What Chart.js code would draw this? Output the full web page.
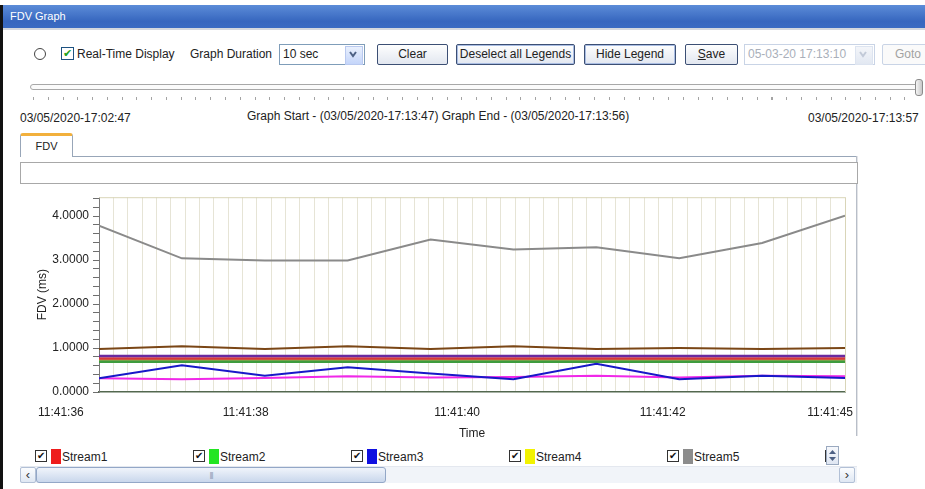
<!DOCTYPE html>
<html>
<head>
<meta charset="utf-8">
<title>FDV Graph</title>
<script src="https://cdn.jsdelivr.net/npm/chart.js@4.4.1/dist/chart.umd.min.js"></script>
<style>
body { margin: 0; width: 925px; height: 489px; overflow: hidden; background: #fff;
       font-family: "Liberation Sans", Arial, sans-serif; font-size: 12px; color: #222; position: relative; }
.a { position: absolute; box-sizing: border-box; }
#edge { left: 0; top: 5px; width: 3px; height: 484px; background: #111; }
#titlebar { left: 3px; top: 5px; width: 922px; height: 23px; background: linear-gradient(#5c8cd8, #3767bf 70%, #3a6bc2);
            color: #fff; font-size: 11px; line-height: 23px; padding-left: 7px; }
#titleline { left: 3px; top: 28px; width: 922px; height: 2px; background: #d4d8de; }
.lbl { line-height: 14px; white-space: nowrap; }
.radio { width: 12px; height: 12px; border: 1px solid #444; border-radius: 50%; background: #fff; }
.chk { width: 13px; height: 13px; border: 1px solid #1d5281; background: #fff; font-size: 11px; line-height: 11px; text-align: center; color: #21a121; }
.btn { height: 21px; border: 1px solid #3c4f74; border-radius: 2px; background: linear-gradient(#fefefe, #e2e7f0);
       text-align: center; line-height: 19px; white-space: nowrap; }
.btn.focus { box-shadow: inset 0 0 0 1px #a9bde3; }
.combo { height: 21px; border: 1px solid #7f9db9; background: #fff; line-height: 19px; padding-left: 3px; white-space: nowrap; }
.combo .arr { position: absolute; right: 1px; top: 1px; width: 16px; height: 17px; border: 1px solid #b9c9ef;
              background: linear-gradient(#e9f0fd, #c4d5fa); }
.combo.dis { border-color: #c9d4e6; color: #a9afba; }
.combo.dis .arr { border-color: #dde4f0; background: linear-gradient(#f3f5f9, #e2e8f2); }
.btn.dis { border-color: #c9d4e6; color: #a2a2a2; background: #fafafa; }
#track { left: 30px; top: 84px; width: 890px; height: 6px; border: 1px solid #a8a8a8; border-radius: 3px; background: #fbfbfb; }
#ticks { left: 33px; top: 97px; width: 886px; height: 3px;
         background: repeating-linear-gradient(to right, #a4a4a4 0 1px, transparent 1px 14.77px); }
#thumb { left: 915px; top: 79px; width: 8px; height: 17px; border: 1px solid #8b8b8b; border-radius: 3px;
         background: linear-gradient(to right, #f5f5f5, #c8c8c8); }
#tab { left: 20px; top: 133px; width: 53px; height: 24px; border: 1px solid #98a6b8; border-bottom: none;
       border-top: 3px solid #f2b03c; border-radius: 3px 3px 0 0; background: #fff; text-align: center; line-height: 20px; font-size: 11px; }
#tabline { left: 73px; top: 156px; width: 783px; height: 1px; background: #98a6b8; }
#panelR { left: 856px; top: 156px; width: 2px; height: 280px; border-left: 1px solid #b8bec8; border-right: 1px solid #e2e4e8; }
#textbox { left: 20px; top: 162px; width: 838px; height: 22px; border: 1px solid #a8a8a8; background: #fff; }
#chartBox { left: 20px; top: 186px; width: 838px; height: 259px; }
#legend { left: 20px; top: 448px; width: 806px; height: 17px; overflow: hidden; }
.item { position: absolute; top: 1px; height: 15px; white-space: nowrap; }
.item .cb { position: absolute; left: 0; top: 1px; width: 12px; height: 12px; border: 1px solid #333; background: #fff;
            font-size: 10px; line-height: 10px; text-align: center; color: #111; box-sizing: border-box; }
.item .sw { position: absolute; left: 16px; top: 0; width: 10px; height: 15px; }
.item .nm { position: absolute; left: 27px; top: 1px; line-height: 14px; }
#spin { left: 826px; top: 446px; width: 13px; height: 19px; border: 1px solid #9aa9bf; background: linear-gradient(#f6f8fc, #dfe6f2); }
#scroll { left: 20px; top: 466px; width: 837px; height: 17px; background: #f1f4f9; border-top: 1px solid #e4e8ef; }
.sbtn { top: 0; width: 16px; height: 16px; border: 1px solid #b2c0d6; border-radius: 2px; background: linear-gradient(#fbfcfe, #dfe7f3);
        text-align: center; line-height: 13px; font-size: 13px; color: #333; }
#sthumb { left: 16px; top: 0; width: 350px; height: 16px; border: 1px solid #93a7c7; border-radius: 3px;
          background: linear-gradient(#f0f4fb, #c9d7ec); text-align: center; color: #8a9ab3; font-size: 8px; line-height: 14px; letter-spacing: -1px; }
</style>
</head>
<body>
<div id="edge" class="a"></div>
<div id="titlebar" class="a">FDV Graph</div>
<div id="titleline" class="a"></div>

<div class="a radio" style="left:34px; top:48px;"></div>
<div class="a chk" style="left:61px; top:47px;">&#10004;</div>
<div class="a lbl" style="left:77px; top:47px;">Real-Time Display</div>
<div class="a lbl" style="left:190px; top:47px;">Graph Duration</div>
<div class="a combo" style="left:279px; top:44px; width:86px;">10 sec
  <div class="arr"><svg width="14" height="15"><polyline points="4,5 7,9 10,5" fill="none" stroke="#4d6185" stroke-width="2"/></svg></div>
</div>
<div class="a btn" style="left:377px; top:44px; width:71px;">Clear</div>
<div class="a btn focus" style="left:456px; top:44px; width:119px;">Deselect all Legends</div>
<div class="a btn focus" style="left:584px; top:44px; width:92px;">Hide Legend</div>
<div class="a btn" style="left:685px; top:44px; width:53px;"><u>S</u>ave</div>
<div class="a combo dis" style="left:744px; top:44px; width:131px;">05-03-20 17:13:10
  <div class="arr"><svg width="14" height="15"><polyline points="4,5 7,9 10,5" fill="none" stroke="#c2cad8" stroke-width="2"/></svg></div>
</div>
<div class="a btn dis" style="left:882px; top:44px; width:52px;">Goto</div>

<div id="track" class="a"></div>
<div id="ticks" class="a"></div>
<div id="thumb" class="a"></div>

<div class="a lbl" style="left:20px; top:111px;">03/05/2020-17:02:47</div>
<div class="a lbl" style="left:247px; top:109px;">Graph Start - (03/05/2020-17:13:47) Graph End - (03/05/2020-17:13:56)</div>
<div class="a lbl" style="left:808px; top:111px;">03/05/2020-17:13:57</div>

<div id="tab" class="a">FDV</div>
<div id="tabline" class="a"></div>
<div id="panelR" class="a"></div>
<div id="textbox" class="a"></div>

<div id="chartBox" class="a"><canvas id="fdvChart" width="838" height="259"></canvas></div>

<div id="legend" class="a"></div>
<div id="spin" class="a">
  <svg width="11" height="17"><polygon points="2,7 5.5,3 9,7" fill="#4d6185"/><polygon points="2,10 5.5,14 9,10" fill="#4d6185"/></svg>
</div>
<div id="scroll" class="a">
  <div class="a sbtn" style="left:0;">&#8249;</div>
  <div id="sthumb" class="a">|||</div>
  <div class="a sbtn" style="left:819px;">&#8250;</div>
</div>

<script>
// samples along the time axis (one per second)
const sampleIdx = [0, 1, 2, 3, 4, 5, 6, 7, 8, 9];
// where the time labels sit on the sample axis, and their text
const xTickPos = [-0.46, 1.77, 4.32, 6.80, 8.82];
const xTickLabels = ["11:41:36", "11:41:38", "11:41:40", "11:41:42", "11:41:45"];

const streamNames = ["Stream1", "Stream2", "Stream3", "Stream4", "Stream5", "Stream6", "Stream7", "Stream8"];
const swatchColors = ["#ee1c1c", "#22e522", "#1010e0", "#f2f200", "#8c8c8c", "#8b4513", "#6a2aa0", "#ff22ee"];
const lineColors = ["#d8383a", "#3e9c3e", "#1818c8", "#b4a456", "#8a8a8a", "#7a4616", "#6a2aa0", "#f028e8"];

// FDV (ms) per stream
const stream1 = [0.76, 0.76, 0.76, 0.76, 0.76, 0.76, 0.76, 0.76, 0.76, 0.76];
const stream2 = [0.69, 0.69, 0.69, 0.69, 0.69, 0.69, 0.69, 0.69, 0.69, 0.69];
const stream3 = [0.31, 0.61, 0.37, 0.56, 0.42, 0.29, 0.64, 0.29, 0.37, 0.32];
const stream4 = [0.72, 0.72, 0.72, 0.72, 0.72, 0.72, 0.72, 0.72, 0.72, 0.72];
const stream5 = [3.78, 3.04, 2.99, 2.99, 3.47, 3.24, 3.29, 3.04, 3.39, 4.01];
const stream6 = [0.98, 1.04, 0.98, 1.04, 0.98, 1.04, 0.98, 1.00, 0.98, 1.00];
const stream7 = [0.82, 0.82, 0.82, 0.82, 0.82, 0.82, 0.82, 0.82, 0.82, 0.82];
const stream8 = [0.31, 0.29, 0.32, 0.36, 0.33, 0.34, 0.37, 0.33, 0.37, 0.36];
const streamValues = [stream1, stream2, stream3, stream4, stream5, stream6, stream7, stream8];

const lineWidths = [2.5, 2.5, 2, 2.5, 2, 2, 2.5, 2];
const drawOrder = [2, 3, 0, 4, 1, 1, 1, 0];

const tickFont = { family: "'Liberation Sans', Arial, sans-serif", size: 12 };

// top/right frame of the plot area
const plotFrame = {
    id: "plotFrame",
    beforeDatasetsDraw(chart) {
        const { ctx, chartArea: a } = chart;
        ctx.save();
        ctx.strokeStyle = "#d9d5b8";
        ctx.lineWidth = 1;
        ctx.beginPath();
        ctx.moveTo(a.left, a.top + 0.5);
        ctx.lineTo(a.right + 0.5, a.top + 0.5);
        ctx.lineTo(a.right + 0.5, a.bottom);
        ctx.stroke();
        ctx.restore();
    }
};

function initChart() {
    const ctx = document.getElementById("fdvChart").getContext("2d");
    new Chart(ctx, {
        type: "line",
        data: {
            datasets: streamNames.map((name, i) => ({
                label: name,
                data: streamValues[i].map((v, j) => ({ x: sampleIdx[j], y: v })),
                borderColor: lineColors[i],
                borderWidth: lineWidths[i],
                pointRadius: 0,
                tension: 0,
                fill: false,
                order: drawOrder[i]
            }))
        },
        options: {
            responsive: false,
            animation: false,
            layout: { padding: { top: 9, right: 13, left: 0, bottom: 0 } },
            plugins: { legend: { display: false }, tooltip: { enabled: false } },
            scales: {
                x: {
                    type: "linear", min: 0, max: 9,
                    afterBuildTicks: s => { s.ticks = xTickPos.map(v => ({ value: v })); },
                    afterFit: s => { s.height = 53; s.paddingLeft = 0; s.paddingRight = 0; },
                    ticks: { autoSkip: false, maxRotation: 0, padding: 0, color: "#222", font: tickFont,
                             callback: (v, i) => xTickLabels[i] },
                    grid: { drawOnChartArea: false, drawTicks: true, tickLength: 13, tickColor: "rgba(0,0,0,0)" },
                    border: { color: "#53684f", width: 1.5 },
                    title: { display: true, text: "Time", color: "#222", font: tickFont, padding: { top: 0, bottom: 4 } }
                },
                xg: {
                    type: "linear", position: "bottom", min: 0, max: 52,
                    afterFit: s => { s.height = 0; },
                    ticks: { display: false, stepSize: 1 },
                    grid: { color: "#e6e4d6", drawTicks: false },
                    border: { display: false }
                },
                y: {
                    min: 0, max: 4.43,
                    afterFit: s => { s.width = 79; },
                    ticks: { stepSize: 0.2, includeBounds: false, autoSkip: false, padding: 4, color: "#222", font: tickFont,
                             callback: v => Math.abs(v - Math.round(v)) < 1e-6 ? v.toFixed(4) : "" },
                    grid: { drawOnChartArea: false, drawTicks: true, tickLength: 6, tickColor: "#6e6e6e" },
                    border: { color: "#7a7a7a", width: 1 },
                    title: { display: true, text: "FDV (ms)", color: "#222", font: tickFont, padding: { top: 15 } }
                }
            }
        },
        plugins: [plotFrame]
    });
}

// legend row with checkboxes
function buildLegend() {
    const box = document.getElementById("legend");
    streamNames.forEach((name, i) => {
        const item = document.createElement("div");
        item.className = "item";
        item.style.left = (15 + i * 158) + "px";
        item.innerHTML = '<div class="cb">&#10004;</div><div class="sw" style="background:' + swatchColors[i] +
            '"></div><div class="nm">' + name + '</div>';
        box.appendChild(item);
    });
}

window.onload = function() {
    initChart();
    buildLegend();
};
</script>
</body>
</html>
